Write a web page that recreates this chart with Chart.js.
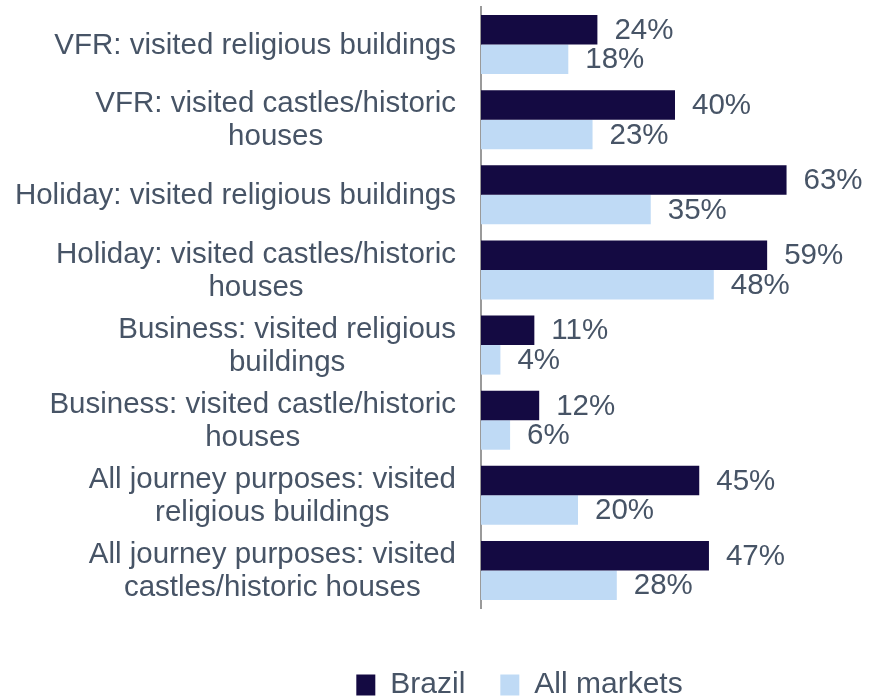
<!DOCTYPE html>
<html>
<head>
<meta charset="utf-8">
<script src="https://cdn.jsdelivr.net/npm/chart.js@4.4.1/dist/chart.umd.min.js"></script>
<style>
  html, body { margin: 0; padding: 0; background: #fff; }
  #wrap { width: 884px; height: 697px; position: relative; }
</style>
</head>
<body>
<div id="wrap"><canvas id="chart"></canvas></div>
<script>
// categories (one array per label, each entry a line)
let categories = [
  ["VFR: visited religious buildings"],
  ["VFR: visited castles/historic", "houses"],
  ["Holiday: visited religious buildings"],
  ["Holiday: visited castles/historic", "houses"],
  ["Business: visited religious", "buildings"],
  ["Business: visited castle/historic", "houses"],
  ["All journey purposes: visited", "religious buildings"],
  ["All journey purposes: visited", "castles/historic houses"]
];
let brazil = [24, 40, 63, 59, 11, 12, 45, 47];
let allMarkets = [18, 23, 35, 48, 4, 6, 20, 28];
let seriesNames = ["Brazil", "All markets"];

let fontFamily = '"Liberation Sans", Arial, sans-serif';
let textColor = '#475466';

// y labels: widest line right aligned, other lines centred under it
const yLabels = {
  id: 'yLabels',
  afterDraw(chart) {
    let ctx = chart.ctx;
    let y = chart.scales.y;
    let area = chart.chartArea;
    ctx.save();
    ctx.font = '29.5px ' + fontFamily;
    ctx.fillStyle = textColor;
    ctx.textAlign = 'center';
    ctx.textBaseline = 'middle';
    categories.forEach((lines, i) => {
      let widest = Math.max(...lines.map(l => ctx.measureText(l).width));
      let cx = area.left - 25 - widest / 2;
      let cy = y.getPixelForValue(i) + 1;
      let lh = 33;
      let start = cy - (lines.length - 1) * lh / 2;
      lines.forEach((l, j) => ctx.fillText(l, cx, start + j * lh));
    });
    ctx.restore();
  }
};

// value labels at the end of each bar
const valueLabels = {
  id: 'valueLabels',
  afterDatasetsDraw(chart) {
    let ctx = chart.ctx;
    ctx.save();
    ctx.font = '29.5px ' + fontFamily;
    ctx.fillStyle = textColor;
    ctx.textAlign = 'left';
    ctx.textBaseline = 'middle';
    chart.data.datasets.forEach((ds, d) => {
      chart.getDatasetMeta(d).data.forEach((bar, i) => {
        ctx.fillText(ds.data[i] + '%', bar.x + 17, bar.y + 1);
      });
    });
    ctx.restore();
  }
};

new Chart(document.getElementById('chart'), {
  type: 'bar',
  data: {
    labels: categories.map(c => c.join(' ')),
    datasets: [
      { label: seriesNames[0], data: brazil, backgroundColor: '#140A42' },
      { label: seriesNames[1], data: allMarkets, backgroundColor: '#BFDAF5' }
    ]
  },
  options: {
    indexAxis: 'y',
    responsive: true,
    maintainAspectRatio: false,
    animation: false,
    categoryPercentage: 0.786,
    barPercentage: 1,
    layout: { padding: { left: 170, right: 15, top: 7, bottom: 0 } },
    scales: {
      x: {
        min: 0, max: 80,
        grid: { display: false },
        border: { display: false },
        ticks: { display: false },
        afterFit(s) { s.height = 27; }
      },
      y: {
        grid: { display: false },
        border: { display: true, color: '#9a9a9a', width: 2 },
        ticks: { display: false },
        afterFit(s) { s.width = 311; }
      }
    },
    plugins: {
      tooltip: { enabled: false },
      legend: {
        position: 'bottom',
        maxHeight: 62,
        labels: {
          boxWidth: 19,
          boxHeight: 21,
          padding: 35,
          color: textColor,
          font: { size: 30, family: fontFamily }
        }
      }
    }
  },
  plugins: [yLabels, valueLabels]
});
</script>
</body>
</html>
